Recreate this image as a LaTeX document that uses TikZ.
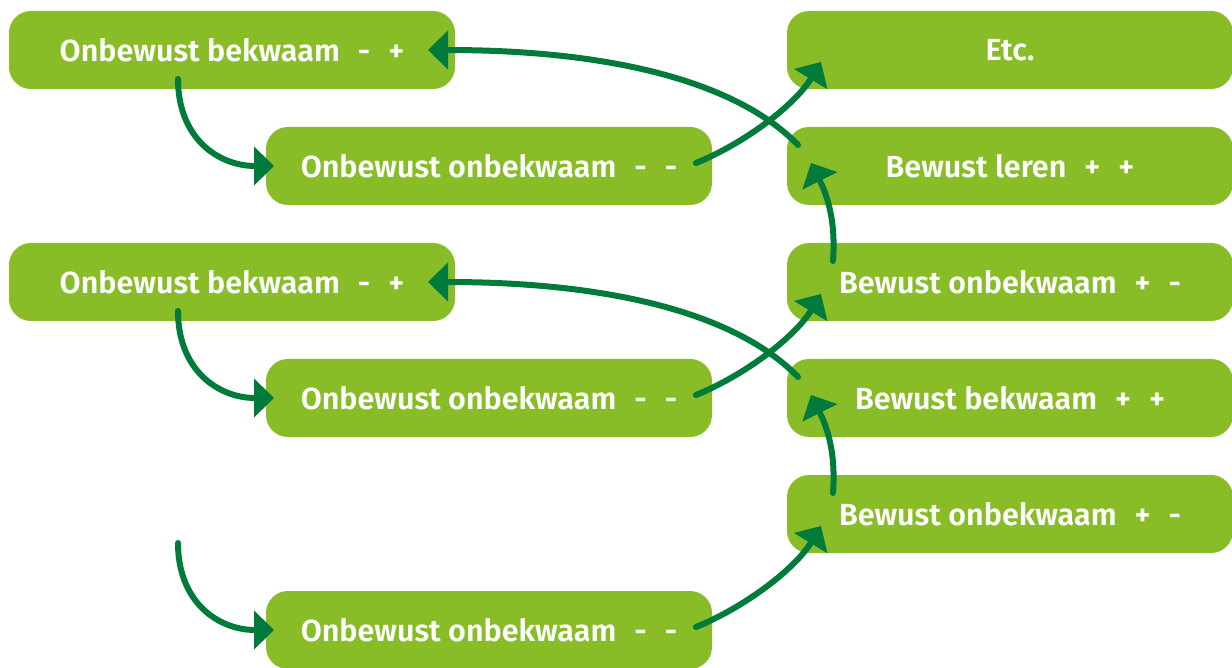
\documentclass[tikz,border=0pt]{standalone}
\usepackage{fontspec}
\setmainfont{Fira Sans}[BoldFont={Fira Sans SemiBold}]
\usetikzlibrary{arrows.meta,calc}
\definecolor{boxgreen}{RGB}{137,189,40}
\definecolor{arrowgreen}{RGB}{0,123,60}
\newcommand{\gp}{\hspace{18pt}}
\tikzset{
  box/.style={fill=boxgreen, rounded corners=22pt, minimum width=446pt, minimum height=78pt,
    inner sep=0pt, text=white, font=\fontsize{30.5}{36}\selectfont\bfseries},
  conn/.style={draw=arrowgreen, line width=6pt, line cap=round,
    -{Triangle[length=20pt,width=38pt]}}
}
\begin{document}
\begin{tikzpicture}[x=1pt,y=-1pt]
\useasboundingbox (0,0) rectangle (1232,668);
% left column
\node[box] (L1) at (232,50)  {Onbewust bekwaam\gp-\gp+};
\node[box] (L2) at (489,166) {Onbewust onbekwaam\gp-\gp-};
\node[box] (L3) at (232,282) {Onbewust bekwaam\gp-\gp+};
\node[box] (L4) at (489,398) {Onbewust onbekwaam\gp-\gp-};
\node[box] (L5) at (489,630) {Onbewust onbekwaam\gp-\gp-};
% right column
\node[box] (R1) at (1010,50)  {Etc.};
\node[box] (R2) at (1010,166) {Bewust leren\gp+\gp+};
\node[box] (R3) at (1010,282) {Bewust onbekwaam\gp+\gp-};
\node[box] (R4) at (1010,398) {Bewust bekwaam\gp+\gp+};
\node[box] (R5) at (1010,514) {Bewust onbekwaam\gp+\gp-};
\coordinate (F) at (178,543);
% connectors
\draw[conn] ($(L1)+(-54,29)$) .. controls +(0,59) and +(-56,0) .. ($(L2)+(-215,0)$);
\draw[conn] ($(L3)+(-54,29)$) .. controls +(0,59) and +(-56,0) .. ($(L4)+(-215,0)$);
\draw[conn] (F) .. controls +(0,59) and +(-56,0) .. ($(L5)+(-215,0)$);
\draw[conn] ($(L2)+(207,-3)$) .. controls +(49,-20) and +(-26,43) .. ($(R1)+(-189,12)$);
\draw[conn] ($(L4)+(207,-3)$) .. controls +(49,-20) and +(-26,43) .. ($(R3)+(-189,12)$);
\draw[conn] ($(L5)+(207,-3)$) .. controls +(49,-20) and +(-26,43) .. ($(R5)+(-189,12)$);
\draw[conn] ($(R2)+(-212,-21)$) .. controls +(-58,-60) and +(192,0) .. ($(L1)+(196,0)$);
\draw[conn] ($(R4)+(-212,-21)$) .. controls +(-58,-60) and +(192,0) .. ($(L3)+(196,0)$);
\draw[conn] ($(R3)+(-177,-21)$) .. controls +(3,-41) and +(16,32) .. ($(R2)+(-199,-3)$);
\draw[conn] ($(R5)+(-177,-21)$) .. controls +(3,-41) and +(16,32) .. ($(R4)+(-199,-3)$);
\end{tikzpicture}
\end{document}
